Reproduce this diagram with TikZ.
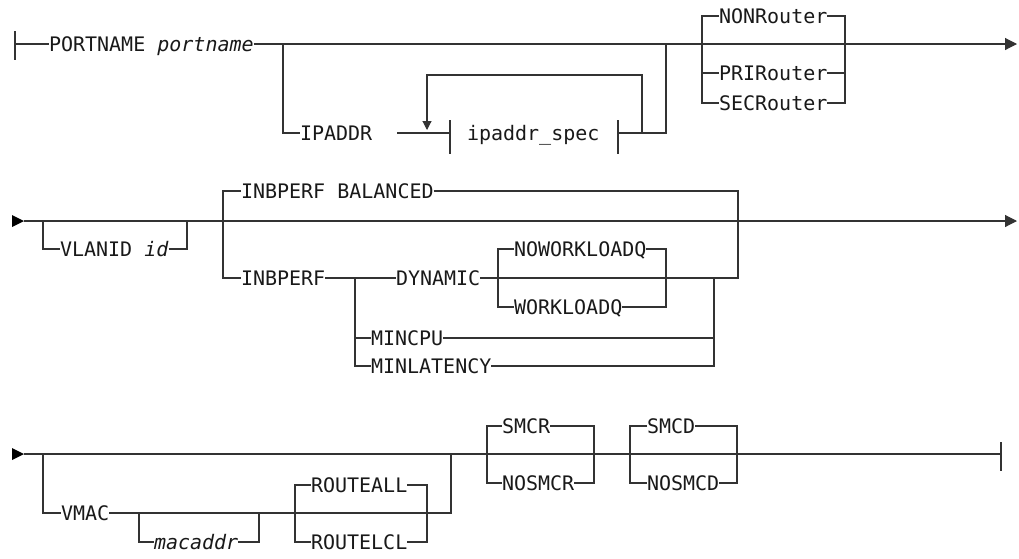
\documentclass[tikz,border=0pt]{standalone}
\usepackage{fontspec}
\setmonofont{DejaVu Sans Mono}
\usetikzlibrary{arrows.meta}
\begin{document}
\begin{tikzpicture}[x=1pt,y=-1pt,
  rail/.style={draw=black!80, line width=1.1pt, line cap=butt, line join=miter},
  kw/.style={anchor=west, inner sep=0pt, outer sep=0pt, text height=14.6pt, text depth=0pt,
             font=\fontsize{20}{24}\selectfont\ttfamily, text=black!90},
  endarrow/.style={-{Triangle[length=12pt,width=12pt]}},
  looparrow/.style={-{Triangle[length=9pt,width=9pt]}},
  lead/.style={fill=black},
]
\useasboundingbox (0,0) rectangle (1019,558);

% ---------- first line ----------
\coordinate (r1s) at (15,44);
\coordinate (r1e) at (1017,44);
\node[kw] (portname) at (49,44) {PORTNAME \textit{portname}};
\draw[rail] ([yshift=13pt]r1s) -- ([yshift=-16pt]r1s);
\draw[rail] (r1s) -- (portname.west);
\draw[rail,endarrow] (portname.east) -- (r1e);

% optional IPADDR with repeatable fragment
\coordinate (j1) at (283,44);
\coordinate (j2) at (666,44);
\node[kw] (ipaddr) at (300,133) {IPADDR};
\node[kw] (spec) at (467,133) {ipaddr\_spec};
\coordinate (ipin) at (397,133);
\coordinate (lb) at (450,133);
\coordinate (rb) at (618,133);
\coordinate (loopr) at (642,133);
\coordinate (loopl) at (427,130);
\draw[rail] (j1) |- (ipaddr.west);
\draw[rail] (ipin) -- (lb);
\draw[rail] ([yshift=13pt]lb) -- ([yshift=-21pt]lb);
\draw[rail] ([yshift=13pt]rb) -- ([yshift=-21pt]rb);
\draw[rail] (rb) -| (j2);
\draw[rail,looparrow] (loopr) |- (427,75) -- (loopl);

% router choice
\coordinate (n1) at (702,44);
\coordinate (n2) at (845,44);
\node[kw] (nonr) at (719,16) {NONRouter};
\node[kw] (prir) at (719,73) {PRIRouter};
\node[kw] (secr) at (719,103) {SECRouter};
\draw[rail] (nonr.west) -| (n1) |- (secr.west);
\draw[rail] (n1) |- (prir.west);
\draw[rail] (nonr.east) -| (n2) |- (secr.east);
\draw[rail] (prir.east) -| (n2);

% ---------- second line ----------
\coordinate (r2s) at (24,221);
\coordinate (r2e) at (1017,221);
\fill[lead] ([xshift=-12pt,yshift=6pt]r2s) -- (r2s) -- ([xshift=-12pt,yshift=-6pt]r2s) -- cycle;
\draw[rail,endarrow] (r2s) -- (r2e);

% VLANID
\coordinate (v1) at (43,221);
\coordinate (v2) at (187,221);
\node[kw] (vlan) at (60,249) {VLANID \textit{id}};
\draw[rail] (v1) |- (vlan.west);
\draw[rail] (vlan.east) -| (v2);

% INBPERF
\coordinate (i1) at (223,221);
\coordinate (i2) at (738,221);
\coordinate (d1) at (355,278);
\coordinate (d2) at (714,278);
\node[kw] (bal) at (241,191) {INBPERF BALANCED};
\node[kw] (inb) at (241,278) {INBPERF};
\node[kw] (dyn) at (396,278) {DYNAMIC};
\node[kw] (mincpu) at (371,338) {MINCPU};
\node[kw] (minlat) at (371,366) {MINLATENCY};
\draw[rail] (bal.west) -| (i1) |- (inb.west);
\draw[rail] (bal.east) -| (i2) |- (d2);
\draw[rail] (inb.east) -- (dyn.west);
\draw[rail] (dyn.east) -- (d2);
\draw[rail] (d1) |- (minlat.west);
\draw[rail] (d1) |- (mincpu.west);
\draw[rail] (mincpu.east) -| (d2);
\draw[rail] (minlat.east) -| (d2);

% workload queue choice
\coordinate (w1) at (498,278);
\coordinate (w2) at (666,278);
\node[kw] (nowl) at (514,249) {NOWORKLOADQ};
\node[kw] (wl) at (514,307) {WORKLOADQ};
\draw[rail] (nowl.west) -| (w1) |- (wl.west);
\draw[rail] (nowl.east) -| (w2) |- (wl.east);

% ---------- third line ----------
\coordinate (r3s) at (24,454);
\coordinate (r3e) at (1001,454);
\fill[lead] ([xshift=-12pt,yshift=6pt]r3s) -- (r3s) -- ([xshift=-12pt,yshift=-6pt]r3s) -- cycle;
\draw[rail] (r3s) -- (r3e);
\draw[rail] ([yshift=12pt]r3e) -- ([yshift=-17pt]r3e);
\coordinate (hs) at (743,454);
\coordinate (he) at (767,454);
\draw[draw=black!80, line width=1.7pt] (hs) -- (he);

% VMAC
\coordinate (m1) at (43,454);
\coordinate (m2) at (451,454);
\node[kw] (vmac) at (61,513) {VMAC};
\draw[rail] (m1) |- (vmac.west);
\draw[rail] (vmac.east) -| (m2);

\coordinate (a1) at (139,513);
\coordinate (a2) at (259,513);
\node[kw] (mac) at (154,542) {\textit{macaddr}};
\draw[rail] (a1) |- (mac.west);
\draw[rail] (mac.east) -| (a2);

\coordinate (o1) at (295,513);
\coordinate (o2) at (427,513);
\node[kw] (rall) at (311,485) {ROUTEALL};
\node[kw] (rlcl) at (311,542) {ROUTELCL};
\draw[rail] (rall.west) -| (o1) |- (rlcl.west);
\draw[rail] (rall.east) -| (o2) |- (rlcl.east);

% SMCR
\coordinate (s1) at (487,454);
\coordinate (s2) at (594,454);
\node[kw] (smcr) at (502,426) {SMCR};
\node[kw] (nosmcr) at (502,483) {NOSMCR};
\draw[rail] (smcr.west) -| (s1) |- (nosmcr.west);
\draw[rail] (smcr.east) -| (s2) |- (nosmcr.east);

% SMCD
\coordinate (c1) at (630,454);
\coordinate (c2) at (737,454);
\node[kw] (smcd) at (647,426) {SMCD};
\node[kw] (nosmcd) at (647,483) {NOSMCD};
\draw[rail] (smcd.west) -| (c1) |- (nosmcd.west);
\draw[rail] (smcd.east) -| (c2) |- (nosmcd.east);
\end{tikzpicture}
\end{document}
